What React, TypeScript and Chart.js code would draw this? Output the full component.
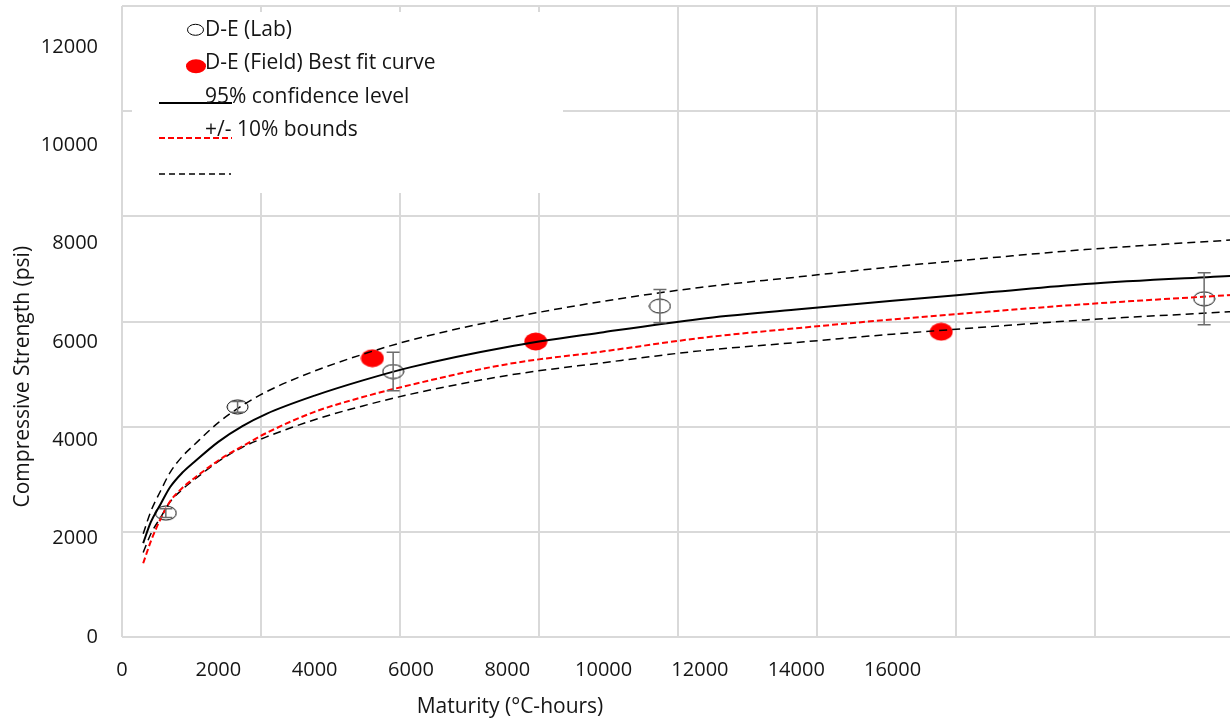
import React, { useEffect, useRef } from 'react';
import { Chart, registerables } from 'chart.js';

Chart.register(...registerables);

// ---- data (in tick-label units) ----
const curveX = [440, 600, 800, 1000, 1250, 1500, 2000, 2500, 3000, 4000, 5000, 6000, 8000, 10000, 12000, 14000, 16000, 18000, 20000, 23100];
const bestFitY = [1910, 2340, 2700, 3050, 3340, 3560, 3970, 4290, 4540, 4910, 5220, 5490, 5900, 6200, 6470, 6660, 6840, 7010, 7180, 7350];
const confidenceY = [1500, 1950, 2400, 2760, 3030, 3230, 3590, 3880, 4150, 4580, 4880, 5130, 5550, 5810, 6080, 6280, 6460, 6620, 6770, 6960];
const upperBoundY = [2100, 2560, 2970, 3350, 3670, 3910, 4360, 4710, 4990, 5410, 5750, 6040, 6480, 6830, 7110, 7320, 7530, 7710, 7880, 8080];
const lowerBoundY = [1720, 2100, 2430, 2750, 3000, 3200, 3570, 3860, 4070, 4420, 4700, 4940, 5320, 5580, 5820, 5990, 6160, 6310, 6450, 6620];

const labX = [910, 2400, 5630, 11170, 22470];
const labY = [2520, 4680, 5400, 6730, 6880];
const labErr = [90, 110, 390, 340, 530];

const fieldX = [5200, 8590, 17010];
const fieldY = [5670, 6010, 6210];

const xTickLabels = ['0', '2000', '4000', '6000', '8000', '10000', '12000', '14000', '16000'];
const yTickLabels = ['0', '2000', '4000', '6000', '8000', '10000', '12000'];
const tickStep = 2000;

// label axes and grid axes of the reference do not coincide
const xLabelAxisMax = 23090;
const yLabelAxisMax = 12835;
const xGridMax = 16000;
const yGridMax = 12000;

const legendTexts = ['D-E (Lab)', 'D-E (Field) Best fit curve', '95% confidence level', '+/- 10% bounds'];
const xTitle = 'Maturity (°C-hours)';
const yTitle = 'Compressive Strength (psi)';

const FONT = "'Open Sans', 'Noto Sans', sans-serif";
const TEXT = '#151515';
const GRID = '#d9d9d9';

function makeEllipse(w: number, h: number, fill: string | null, stroke: string | null, lw: number) {
  const c = document.createElement('canvas');
  c.width = w;
  c.height = h;
  const ctx = c.getContext('2d')!;
  ctx.beginPath();
  ctx.ellipse(w / 2, h / 2, w / 2 - lw / 2 - 0.5, h / 2 - lw / 2 - 0.5, 0, 0, Math.PI * 2);
  if (fill) {
    ctx.fillStyle = fill;
    ctx.fill();
  }
  if (stroke) {
    ctx.strokeStyle = stroke;
    ctx.lineWidth = lw;
    ctx.stroke();
  }
  return c;
}

const noPad = (s: any) => {
  s.paddingTop = 0;
  s.paddingBottom = 0;
  s.paddingLeft = 0;
  s.paddingRight = 0;
};

const labelTicks = (labels: string[]) => (s: any) => {
  s.ticks = labels.map((_, i) => ({ value: i * tickStep }));
};

const overlayPlugin = {
  id: 'overlay',
  afterDatasetsDraw(chart: any) {
    const { ctx, scales } = chart;
    const xs = scales.x;
    const ys = scales.y;
    ctx.save();
    ctx.strokeStyle = '#6b6b6b';
    ctx.lineWidth = 1.5;
    for (let i = 0; i < labX.length; i++) {
      const px = xs.getPixelForValue(labX[i]);
      const top = ys.getPixelForValue(labY[i] + labErr[i]);
      const bot = ys.getPixelForValue(labY[i] - labErr[i]);
      ctx.beginPath();
      ctx.moveTo(px, top);
      ctx.lineTo(px, bot);
      ctx.moveTo(px - 6.5, top);
      ctx.lineTo(px + 6.5, top);
      ctx.moveTo(px - 6.5, bot);
      ctx.lineTo(px + 6.5, bot);
      ctx.stroke();
    }
    ctx.restore();
  },
  afterDraw(chart: any) {
    const { ctx } = chart;
    ctx.save();
    // legend box
    ctx.fillStyle = '#ffffff';
    ctx.fillRect(132, 12, 431, 181);

    // markers
    ctx.beginPath();
    ctx.ellipse(195.5, 29.8, 8, 5.5, 0, 0, Math.PI * 2);
    ctx.strokeStyle = '#000';
    ctx.lineWidth = 1;
    ctx.stroke();

    ctx.beginPath();
    ctx.ellipse(196, 66.3, 10, 7, 0, 0, Math.PI * 2);
    ctx.fillStyle = '#ff0000';
    ctx.fill();

    // line samples
    ctx.lineWidth = 2;
    ctx.strokeStyle = '#000';
    ctx.setLineDash([]);
    ctx.beginPath();
    ctx.moveTo(159, 103);
    ctx.lineTo(232, 103);
    ctx.stroke();

    ctx.strokeStyle = '#ff0000';
    ctx.setLineDash([6, 3]);
    ctx.beginPath();
    ctx.moveTo(159, 138);
    ctx.lineTo(232, 138);
    ctx.stroke();

    ctx.strokeStyle = '#000';
    ctx.lineWidth = 1.5;
    ctx.setLineDash([6, 4]);
    ctx.beginPath();
    ctx.moveTo(159, 174);
    ctx.lineTo(231, 174);
    ctx.stroke();
    ctx.setLineDash([]);

    // legend texts
    ctx.fillStyle = TEXT;
    ctx.font = `21px ${FONT}`;
    ctx.textAlign = 'left';
    ctx.textBaseline = 'alphabetic';
    legendTexts.forEach((t, i) => {
      ctx.fillText(t, 205, 36 + i * 33.3);
    });

    // axis titles
    ctx.font = `21px ${FONT}`;
    ctx.textAlign = 'center';
    ctx.fillText(xTitle, 510, 713);
    ctx.translate(28.5, 376.7);
    ctx.rotate(-Math.PI / 2);
    ctx.fillText(yTitle, 0, 0);
    ctx.restore();
  },
};

export default function App() {
  const canvasRef = useRef<HTMLCanvasElement | null>(null);

  useEffect(() => {
    const canvas = canvasRef.current;
    if (!canvas) return;
    const labMarker = makeEllipse(23, 16, null, '#000', 1);
    const fieldMarker = makeEllipse(24, 19, '#ff0000', null, 0);

    const line = (ys: number[]) => curveX.map((x, i) => ({ x, y: ys[i] }));

    const chart = new Chart(canvas, {
      type: 'scatter',
      data: {
        datasets: [
          {
            label: 'Best fit curve',
            data: line(bestFitY),
            showLine: true,
            borderColor: '#000',
            borderWidth: 2,
            pointRadius: 0,
            cubicInterpolationMode: 'monotone',
            order: 0,
          },
          {
            label: '95% confidence level',
            data: line(confidenceY),
            showLine: true,
            borderColor: '#ff0000',
            borderWidth: 2,
            borderDash: [6, 3],
            pointRadius: 0,
            cubicInterpolationMode: 'monotone',
            order: 0,
          },
          {
            label: '+10% bound',
            data: line(upperBoundY),
            showLine: true,
            borderColor: '#000',
            borderWidth: 1.5,
            borderDash: [8, 5],
            pointRadius: 0,
            cubicInterpolationMode: 'monotone',
            order: 0,
          },
          {
            label: '-10% bound',
            data: line(lowerBoundY),
            showLine: true,
            borderColor: '#000',
            borderWidth: 1.5,
            borderDash: [8, 5],
            pointRadius: 0,
            cubicInterpolationMode: 'monotone',
            order: 0,
          },
          {
            label: 'D-E (Lab)',
            data: labX.map((x, i) => ({ x, y: labY[i] })),
            pointStyle: labMarker as any,
            pointRadius: 10,
            order: 1,
          },
          {
            label: 'D-E (Field)',
            data: fieldX.map((x, i) => ({ x, y: fieldY[i] })),
            pointStyle: fieldMarker as any,
            pointRadius: 11,
            order: 1,
          },
        ],
      },
      options: {
        responsive: false,
        animation: false,
        devicePixelRatio: 1,
        layout: { autoPadding: false, padding: { left: 0, top: 6, right: 6, bottom: 0 } },
        plugins: {
          legend: { display: false },
          tooltip: { enabled: false },
        },
        scales: {
          x: {
            type: 'linear',
            position: 'bottom',
            bounds: 'data',
            min: 0,
            max: xLabelAxisMax,
            grid: { display: false, drawTicks: false },
            border: { display: false },
            afterBuildTicks: labelTicks(xTickLabels),
            ticks: {
              autoSkip: false,
              maxRotation: 0,
              padding: 21,
              color: TEXT,
              font: { family: FONT, size: 20 },
              callback: (v: any) => xTickLabels[Math.round(Number(v) / tickStep)] ?? '',
            },
            afterFit: (s: any) => {
              s.height = 86;
              noPad(s);
            },
          },
          xg: {
            type: 'linear',
            position: 'top',
            bounds: 'data',
            min: 0,
            max: xGridMax,
            grid: { color: GRID, lineWidth: 2, drawTicks: false },
            border: { display: false },
            ticks: { display: false, stepSize: tickStep },
            afterFit: (s: any) => {
              s.height = 0;
              noPad(s);
            },
          },
          y: {
            type: 'linear',
            position: 'left',
            bounds: 'data',
            min: 0,
            max: yLabelAxisMax,
            grid: { display: false, drawTicks: false },
            border: { display: false },
            afterBuildTicks: labelTicks(yTickLabels),
            ticks: {
              autoSkip: false,
              padding: 24,
              color: TEXT,
              font: { family: FONT, size: 20 },
              callback: (v: any) => yTickLabels[Math.round(Number(v) / tickStep)] ?? '',
            },
            afterFit: (s: any) => {
              s.width = 122;
              noPad(s);
            },
          },
          yg: {
            type: 'linear',
            position: 'right',
            bounds: 'data',
            min: 0,
            max: yGridMax,
            grid: { color: GRID, lineWidth: 2, drawTicks: false },
            border: { display: false },
            ticks: { display: false, stepSize: tickStep },
            afterFit: (s: any) => {
              s.width = 0;
              noPad(s);
            },
          },
        },
      } as any,
      plugins: [overlayPlugin],
    });
    return () => chart.destroy();
  }, []);

  return (
    <div style={{ position: 'absolute', left: 0, top: 0, width: 1230, height: 723, overflow: 'hidden', background: '#fff' }}>
      <canvas ref={canvasRef} width={1240} height={723} style={{ display: 'block', width: 1240, height: 723 }} />
    </div>
  );
}
